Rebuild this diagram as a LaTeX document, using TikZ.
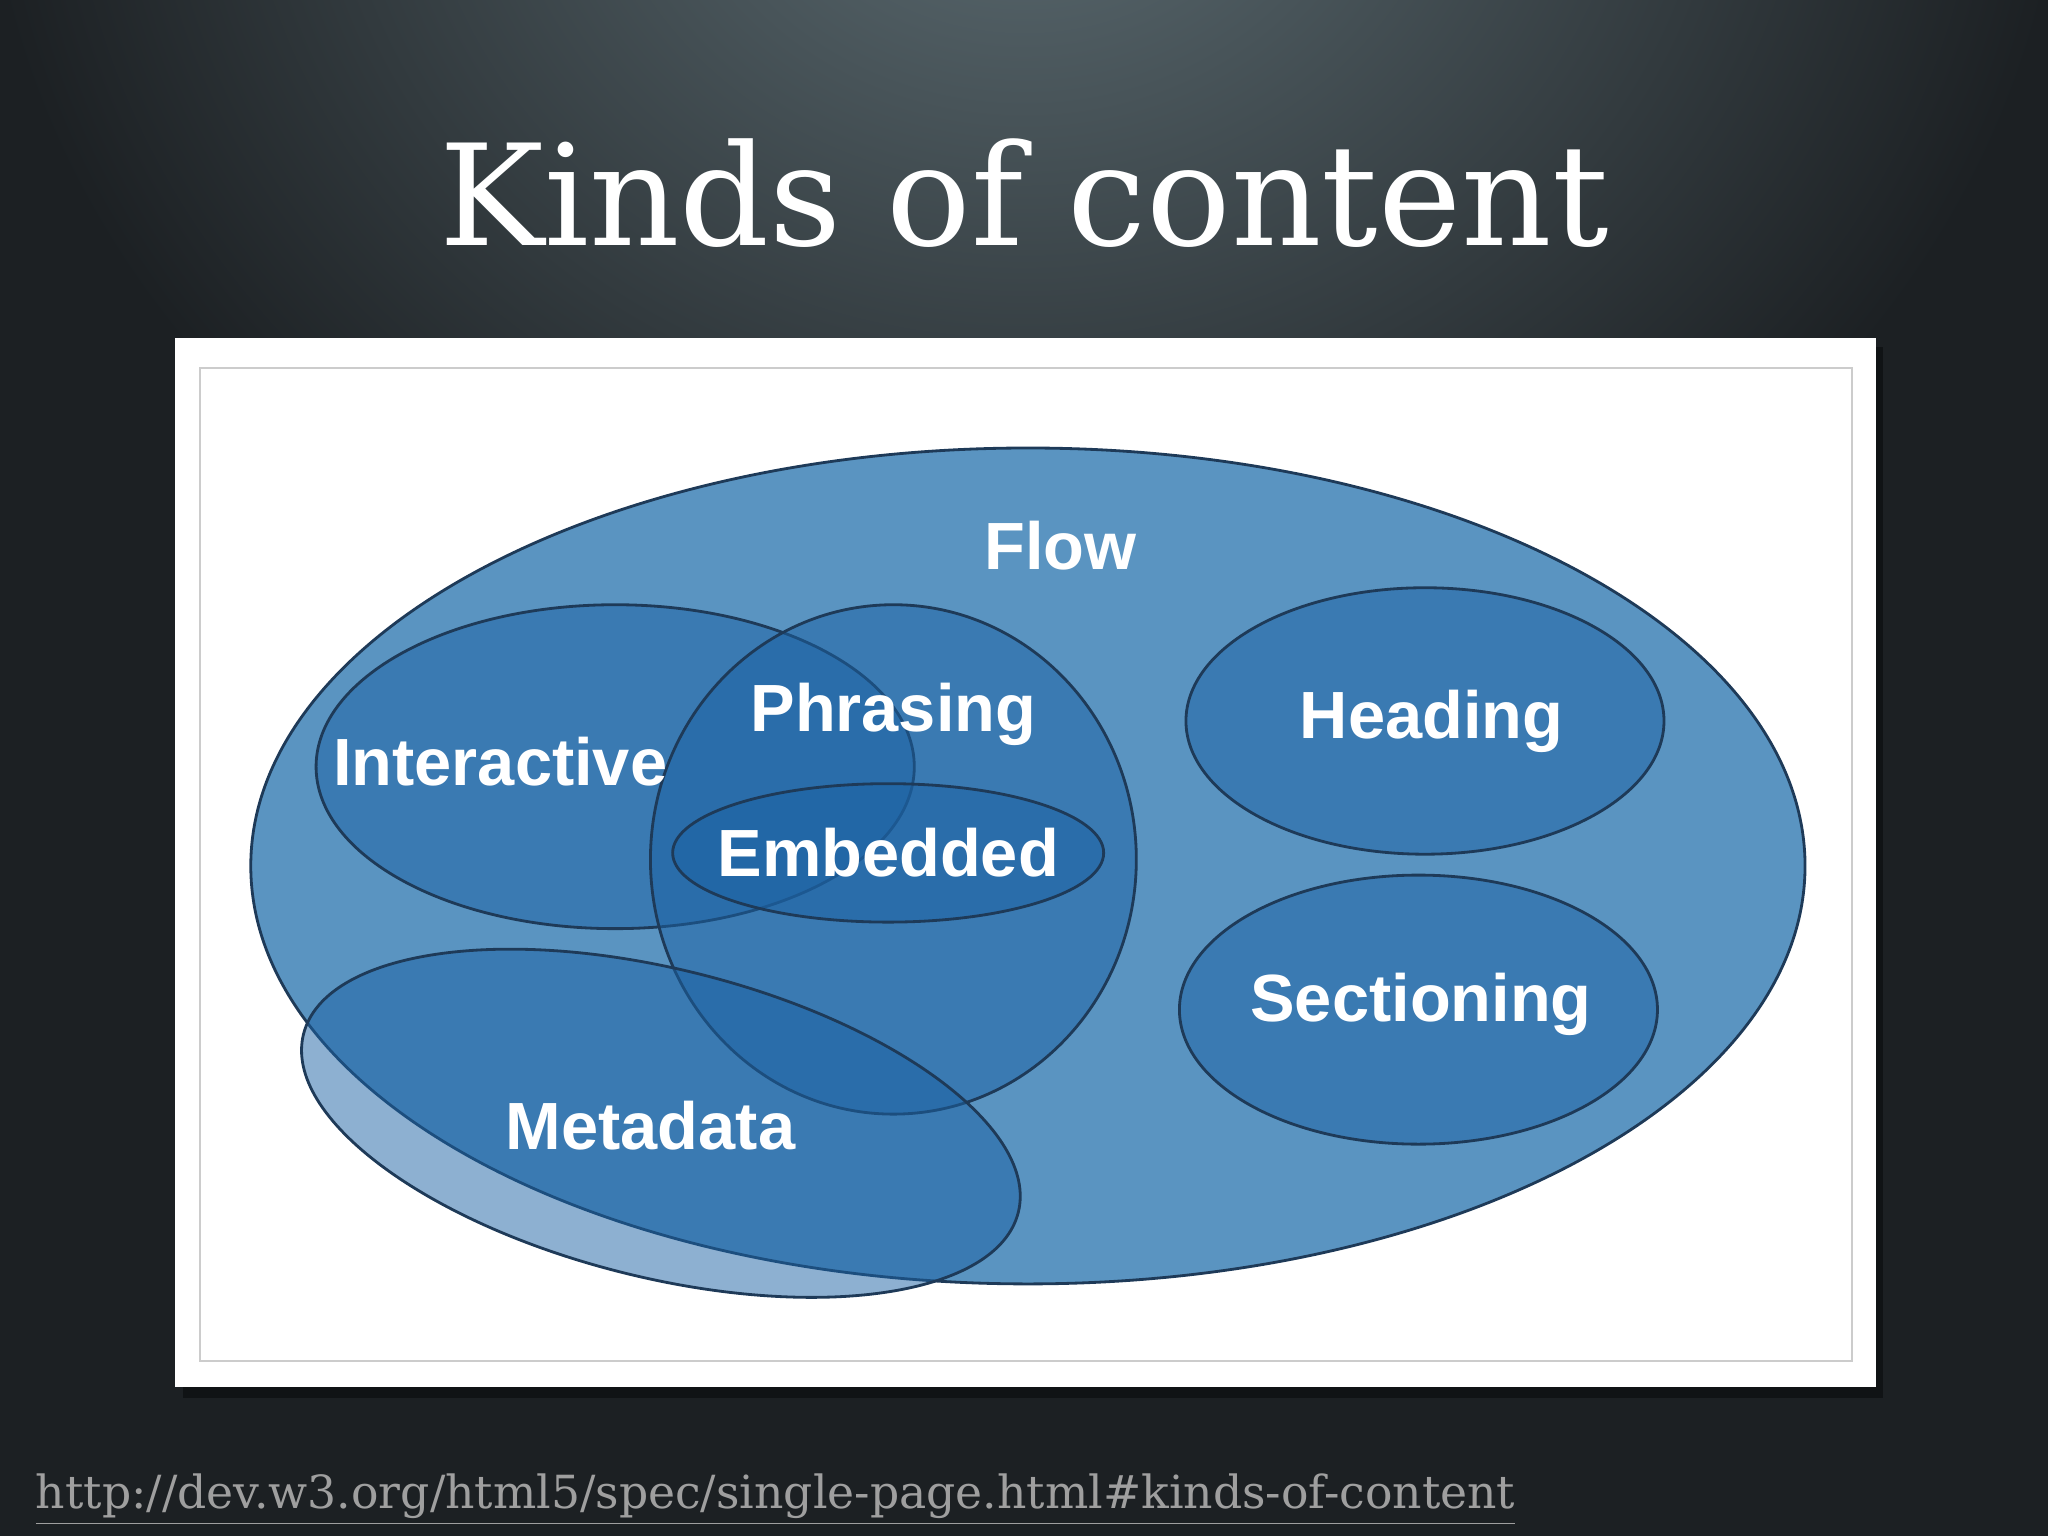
\documentclass[tikz,border=0pt]{standalone}
\usepackage{fontspec}
\setmainfont{DejaVu Serif}
\newfontfamily\lab{Liberation Sans}
\usetikzlibrary{shadows}
\definecolor{bgdark}{HTML}{1C2023}
\definecolor{bglight}{HTML}{5E6E74}
\definecolor{flowc}{HTML}{5A94C1}
\definecolor{inner}{HTML}{1C62A4}
\definecolor{edge}{HTML}{1E3A58}
\tikzset{
 set/.style={draw=edge, line width=0.8pt, fill=inner, fill opacity=0.5},
 lbl/.style={text=white, font=\lab\bfseries\fontsize{19}{22}\selectfont},
}
\begin{document}
\begin{tikzpicture}[x=0.013061cm,y=-0.013061cm]
\useasboundingbox (0,0) rectangle (1568,1176);
\fill[bgdark] (0,0) rectangle (1568,1176);
\shade[inner color=bglight, outer color=bgdark, opacity=1] (784,-150) ellipse (800 and 700);
\fill[bgdark,opacity=0.35] (0,1060) rectangle (1568,1176);
\fill[black,opacity=0.4] (140,266) rectangle (1442,1070);
\fill[white] (134,259) rectangle (1436,1062);
\draw[gray!40, line width=0.6pt] (153,282) rectangle (1418,1042);
\node[text=white, font=\fontsize{40}{46}\selectfont] (title) at (784,148) {Kinds of content};
\node[text=gray!75, font=\fontsize{13}{15}\selectfont, anchor=west] (url) at (18,1148) {\underline{http://dev.w3.org/html5/spec/single-page.html\#kinds-of-content}};
\fill[flowc] (787,663) ellipse (595 and 320);
\draw[edge, line width=0.8pt] (787,663) ellipse (595 and 320);
\draw[set] (471,587) ellipse (229 and 124);
\draw[set] (684,658) ellipse (186 and 195);
\draw[set] (680,653) ellipse (165 and 53);
\draw[set] (1091,552) ellipse (183 and 102);
\draw[set] (1086,773) ellipse (183 and 103);
\draw[set, rotate around={-14:(506,860)}] (506,860) ellipse (282 and 118);
\node[lbl] (flow) at (812,418) {Flow};
\node[lbl] (interactive) at (383,583) {Interactive};
\node[lbl] (phrasing) at (684,547) {Phrasing};
\node[lbl] (embedded) at (680,653) {Embedded};
\node[lbl] (heading) at (1096,552) {Heading};
\node[lbl] (sectioning) at (1088,769) {Sectioning};
\node[lbl] (metadata) at (498,862) {Metadata};
\end{tikzpicture}
\end{document}
